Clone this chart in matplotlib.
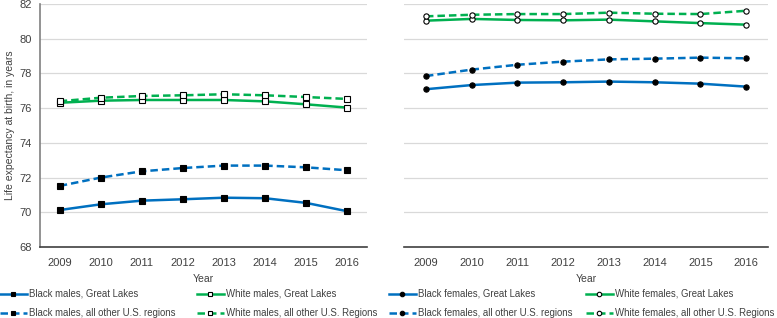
import matplotlib
matplotlib.use("Agg")
import matplotlib.pyplot as plt
from matplotlib import font_manager

names = {f.name for f in font_manager.fontManager.ttflist}
FAM = 'Liberation Sans Narrow' if 'Liberation Sans Narrow' in names else 'Liberation Sans'
plt.rcParams['font.family'] = [FAM, 'DejaVu Sans']

years = [2009, 2010, 2011, 2012, 2013, 2014, 2015, 2016]

black_males_gl = [70.13, 70.46, 70.67, 70.75, 70.84, 70.81, 70.54, 70.06]
black_males_other = [71.52, 72.00, 72.36, 72.55, 72.69, 72.69, 72.59, 72.42]
white_males_gl = [76.31, 76.43, 76.47, 76.47, 76.47, 76.39, 76.22, 76.03]
white_males_other = [76.40, 76.60, 76.70, 76.74, 76.80, 76.74, 76.64, 76.53]

black_females_gl = [77.09, 77.33, 77.47, 77.49, 77.53, 77.49, 77.41, 77.24]
black_females_other = [77.85, 78.22, 78.50, 78.68, 78.81, 78.85, 78.91, 78.87]
white_females_gl = [81.04, 81.14, 81.08, 81.06, 81.10, 81.00, 80.90, 80.81]
white_females_other = [81.29, 81.38, 81.42, 81.42, 81.50, 81.44, 81.42, 81.61]

yticks = [68, 70, 72, 74, 76, 78, 80, 82]

BLUE = '#0070C0'
GREEN = '#00B050'
TXT = '#404040'
DASH = (0, (3.0, 1.6))
FS = 8
LFS = 6.9

fig = plt.figure(figsize=(7.77, 3.18), dpi=100)
axL = fig.add_axes([40/777, 1-247/318, 327/777, 243/318])
axR = fig.add_axes([404/777, 1-247/318, 364/777, 243/318])

def style(ax, left_spine):
    ax.set_xlim(2008.52, 2016.48)
    ax.set_ylim(68, 82)
    ax.set_yticks(yticks)
    ax.set_xticks(years)
    ax.grid(axis='y', color='#d9d9d9', linewidth=0.9)
    ax.set_axisbelow(True)
    for s in ['top', 'right']:
        ax.spines[s].set_visible(False)
    ax.spines['bottom'].set_color('#404040')
    ax.spines['bottom'].set_linewidth(1.2)
    if left_spine:
        ax.spines['left'].set_color('#808080')
        ax.spines['left'].set_linewidth(1.2)
    else:
        ax.spines['left'].set_visible(False)
        ax.tick_params(axis='y', left=False, labelleft=False)
    ax.tick_params(axis='x', length=0, pad=8, labelsize=FS, colors=TXT)
    ax.tick_params(axis='y', length=0, pad=6, labelsize=FS, colors=TXT)
    ax.set_xlabel('Year', fontsize=FS - 0.5, color=TXT, labelpad=4)

style(axL, True)
style(axR, False)
axL.set_ylabel('Life expectancy at birth, in years', fontsize=FS - 0.5, color=TXT, labelpad=3)

ms = 3.8
def plot(ax, y, color, ls, marker, filled, label):
    ln, = ax.plot(years, y, color=color, linestyle=ls, linewidth=1.8,
                  marker=marker, markersize=ms,
                  markerfacecolor='black' if filled else 'white',
                  markeredgecolor='black', markeredgewidth=0.8, label=label)
    return ln

h1 = plot(axL, black_males_gl, BLUE, '-', 's', True, 'Black males, Great Lakes')
h2 = plot(axL, black_males_other, BLUE, DASH, 's', True, 'Black males, all other U.S. regions')
h3 = plot(axL, white_males_gl, GREEN, '-', 's', False, 'White males, Great Lakes')
h4 = plot(axL, white_males_other, GREEN, DASH, 's', False, 'White males, all other U.S. Regions')
h5 = plot(axR, black_females_gl, BLUE, '-', 'o', True, 'Black females, Great Lakes')
h6 = plot(axR, black_females_other, BLUE, DASH, 'o', True, 'Black females, all other U.S. regions')
h7 = plot(axR, white_females_gl, GREEN, '-', 'o', False, 'White females, Great Lakes')
h8 = plot(axR, white_females_other, GREEN, DASH, 'o', False, 'White females, all other U.S. Regions')

cols = [(h1, h2), (h3, h4), (h5, h6), (h7, h8)]
xs = [0, 197, 389, 586]
for (a, b), x in zip(cols, xs):
    leg = fig.legend([a, b], [a.get_label(), b.get_label()], loc='upper left',
                     bbox_to_anchor=(x / 777, 1 - 289 / 318), frameon=False,
                     fontsize=LFS, handlelength=2.8, handletextpad=0.25,
                     labelspacing=0.95, borderaxespad=0, borderpad=0,
                     markerscale=0.85)
    for t in leg.get_texts():
        t.set_color(TXT)

fig.savefig('out.png', dpi=100)
